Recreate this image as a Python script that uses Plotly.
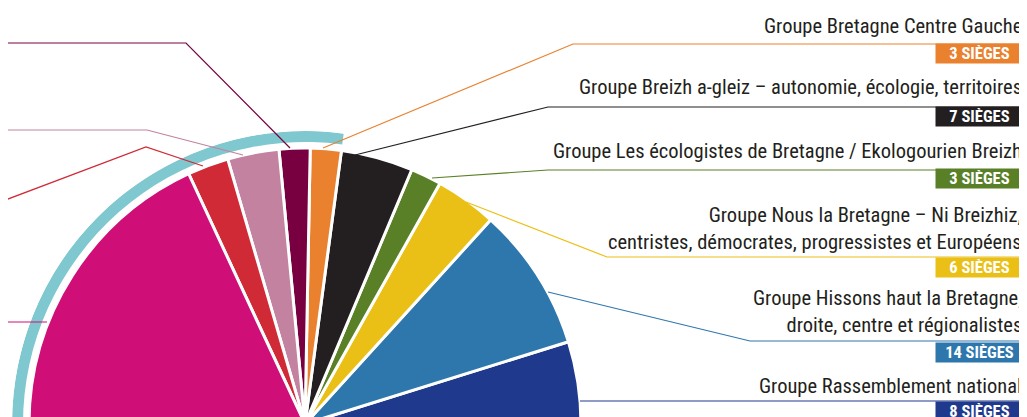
import plotly.graph_objects as go

# ---- data (counter-clockwise from the right end of the hemicycle) ----
groups = [
    "Groupe Rassemblement national",
    "Groupe Hissons haut la Bretagne,<br>droite, centre et régionalistes",
    "Groupe Nous la Bretagne – Ni Breizhiz,<br>centristes, démocrates, progressistes et Européens",
    "Groupe Les écologistes de Bretagne / Ekologourien Breizh",
    "Groupe Breizh a-gleiz – autonomie, écologie, territoires",
    "Groupe Bretagne Centre Gauche",
    "Groupe gauche 4",
    "Groupe gauche 3",
    "Groupe gauche 2",
    "Groupe gauche 1",
]
seats = [8, 14, 6, 3, 7, 3, 3, 5, 4, 30]
colors = ["#1f3a8c", "#2e77ad", "#ebc016", "#5a8027", "#231f20",
          "#e9812f", "#780041", "#c3829f", "#d02a36", "#cf0e77"]
majority_groups = [5, 6, 7, 8, 9]   # groups covered by the teal arc
badge_labels = [f"{s} SIÈGES" for s in seats]

TOTAL = sum(seats)
DEG = 180.0 / TOTAL

W, H = 1027, 417
OFF = 8                      # page body margin in the browser
CX, CY = 305, 424            # hemicycle centre, in screen pixels
R_PIE, R_IN, R_OUT = 276, 282, 293


def sx(x):
    return (x - OFF) / W


def sy(y):
    return 1 - (y - OFF) / H


# angular positions from cumulative seats
thetas, widths = [], []
cum = 0
for s in seats:
    thetas.append((cum + s / 2) * DEG)
    widths.append(s * DEG)
    cum += s

fig = go.Figure()
fig.add_trace(go.Barpolar(
    r=[R_PIE] * len(seats), theta=thetas, width=widths,
    marker=dict(color=colors, line=dict(color="white", width=3)),
    hoverinfo="skip", showlegend=False,
))

maj_start = sum(seats[:majority_groups[0]])
maj_seats = sum(seats[i] for i in majority_groups)
fig.add_trace(go.Barpolar(
    r=[R_OUT - R_IN], base=[R_IN],
    theta=[(maj_start + maj_seats / 2) * DEG], width=[maj_seats * DEG],
    marker=dict(color="#80c8cf", line=dict(width=0)),
    hoverinfo="skip", showlegend=False,
))

fig.update_layout(
    width=W, height=H,
    margin=dict(l=0, r=0, t=0, b=0),
    paper_bgcolor="white", plot_bgcolor="white",
    polar=dict(
        sector=[0, 180],
        domain=dict(x=[sx(CX - R_OUT), sx(CX + R_OUT)], y=[sy(CY), sy(CY - R_OUT)]),
        bgcolor="rgba(0,0,0,0)",
        radialaxis=dict(visible=False, range=[0, R_OUT], showgrid=False, showline=False),
        angularaxis=dict(visible=False, showgrid=False, showline=False),
        bargap=0,
    ),
)

FONT = "Liberation Sans Narrow, Roboto Condensed, DejaVu Sans Condensed, sans-serif"

# right-side labels: (group index, text centre y, rule y, badge centre y, leader points)
right_rows = [
    (5, 26, 44, 54, [(323, 148), (573, 44)]),
    (4, 87, 107, 117, [(355, 155), (548, 107)]),
    (3, 151, 170, 178, [(432, 178), (548, 170)]),
    (2, 228, 257, 267, [(466, 202), (607, 257)]),
    (1, 311, 341, 352, [(548, 292), (750, 341)]),
    (0, 386, 401, 411, [(580, 401)]),
]

shapes = []
annotations = []
for gi, ty, ly, by, pts in right_rows:
    path_pts = pts + [(1024, ly)]
    d = "M " + " L ".join(f"{sx(x)},{sy(y)}" for x, y in path_pts)
    shapes.append(dict(type="path", path=d, xref="paper", yref="paper",
                       line=dict(color=colors[gi], width=1.2)))
    annotations.append(dict(
        text=groups[gi], x=sx(1024), y=sy(ty), xref="paper", yref="paper",
        xanchor="right", yanchor="middle", align="right", showarrow=False,
        font=dict(family=FONT, size=20.5, color="#231f20"),
    ))
    annotations.append(dict(
        text=f"<b>{badge_labels[gi]}</b>", x=sx(1024), y=sy(by),
        xref="paper", yref="paper", xanchor="right", yanchor="middle",
        showarrow=False, bgcolor=colors[gi], width=85, height=17, borderpad=1,
        align="center", font=dict(family=FONT, size=16.5, color="white"),
    ))

# left-side leader lines (their labels are outside the frame)
left_rows = [
    (6, [(0, 43), (186, 43), (290, 148)]),
    (7, [(0, 130), (147, 130), (243, 155)]),
    (8, [(0, 202), (146, 147), (203, 166)]),
    (9, [(0, 322), (47, 322)]),
]
for gi, pts in left_rows:
    d = "M " + " L ".join(f"{sx(x)},{sy(y)}" for x, y in pts)
    shapes.append(dict(type="path", path=d, xref="paper", yref="paper",
                       line=dict(color=colors[gi], width=1.2)))

fig.update_layout(shapes=shapes, annotations=annotations)
fig.write_html("out.html")
